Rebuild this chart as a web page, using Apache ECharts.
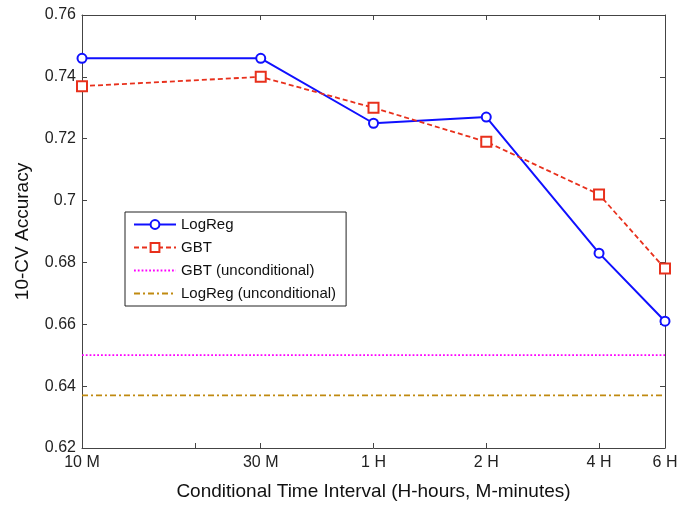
<!DOCTYPE html>
<html>
<head>
<meta charset="utf-8">
<script src="https://cdn.jsdelivr.net/npm/echarts@6/dist/echarts.min.js"></script>
<style>
html, body { margin: 0; padding: 0; background: #fff; }
#tu { width: 679px; height: 506px; }
</style>
</head>
<body>
<div id="tu"></div>
<script>
// time intervals in minutes, labels for the log axis
var minutes = [10, 30, 60, 120, 240, 360];
var tickMinutes = [10, 20, 30, 60, 120, 240, 360];
var tickLabels = ['10 M', '30 M', '1 H', '2 H', '4 H', '6 H'];
var logReg = [0.746, 0.746, 0.725, 0.727, 0.683, 0.661];
var gbt = [0.737, 0.740, 0.730, 0.719, 0.702, 0.678];
var gbtUncond = 0.650;
var logRegUncond = 0.637;

var font = 'Liberation Sans, Arial, sans-serif';

function pts(vals) {
    return minutes.map(function(m, i) { return [Math.log10(m), vals[i]]; });
}
function flat(v) {
    return [[Math.log10(minutes[0]), v], [Math.log10(minutes[minutes.length - 1]), v]];
}
var labelPos = minutes.map(function(m) { return Math.log10(m); });
var tickPos = tickMinutes.map(function(m) { return Math.log10(m); });
function fmtX(v) {
    for (var i = 0; i < labelPos.length; i++) {
        if (Math.abs(labelPos[i] - v) < 1e-6) return tickLabels[i];
    }
    return '';
}

var myChart = echarts.init(document.getElementById('tu'));

var axisLine = { show: true, lineStyle: { color: '#444', width: 1 } };
var noMark = { color: 'rgba(0,0,0,0)', borderColor: 'rgba(0,0,0,0)', borderWidth: 0 };

var option = {
    animation: false,
    backgroundColor: '#fff',
    textStyle: { fontFamily: font },
    grid: { left: 82, right: 14, top: 15, bottom: 58, outerBoundsMode: 'none', containLabel: false },
    legend: {
        orient: 'vertical',
        left: 125,
        top: 212,
        padding: [5, 10, 5, 8],
        itemGap: 8,
        itemWidth: 42,
        itemHeight: 11,
        borderColor: '#222',
        borderWidth: 1,
        backgroundColor: '#fff',
        textStyle: { fontSize: 15, color: '#111', fontFamily: font },
        data: [
            { name: 'LogReg' },
            { name: 'GBT' },
            { name: 'GBT (unconditional)', itemStyle: noMark },
            { name: 'LogReg (unconditional)', itemStyle: noMark }
        ]
    },
    xAxis: [{
        type: 'value',
        min: Math.log10(10),
        max: Math.log10(360),
        name: 'Conditional Time Interval (H-hours, M-minutes)',
        nameLocation: 'middle',
        nameGap: 34,
        nameTextStyle: { fontSize: 19, color: '#111', fontFamily: font },
        axisLine: axisLine,
        axisTick: { show: true, inside: true, length: 5, customValues: tickPos, lineStyle: { color: '#444' } },
        axisLabel: { customValues: labelPos, formatter: fmtX, fontSize: 16, color: '#222', margin: 7, fontFamily: font },
        splitLine: { show: false }
    }, {
        type: 'value',
        position: 'top',
        min: Math.log10(10),
        max: Math.log10(360),
        axisLine: axisLine,
        axisTick: { show: true, inside: true, length: 5, customValues: tickPos, lineStyle: { color: '#444' } },
        axisLabel: { show: false },
        splitLine: { show: false }
    }],
    yAxis: [{
        type: 'value',
        min: 0.62,
        max: 0.76,
        interval: 0.02,
        name: '10-CV Accuracy',
        nameLocation: 'middle',
        nameGap: 50,
        nameTextStyle: { fontSize: 19, color: '#111', fontFamily: font },
        axisLine: axisLine,
        axisTick: { show: true, inside: true, length: 5, lineStyle: { color: '#444' } },
        axisLabel: { fontSize: 16, color: '#222', margin: 6, fontFamily: font },
        splitLine: { show: false }
    }, {
        type: 'value',
        position: 'right',
        min: 0.62,
        max: 0.76,
        interval: 0.02,
        axisLine: axisLine,
        axisTick: { show: true, inside: true, length: 5, lineStyle: { color: '#444' } },
        axisLabel: { show: false },
        splitLine: { show: false }
    }],
    series: [{
        name: 'LogReg',
        type: 'line',
        data: pts(logReg),
        symbol: 'emptyCircle',
        symbolSize: 9,
        color: '#0000ff',
        lineStyle: { color: '#1010ff', width: 2 },
        itemStyle: { color: '#1010ff', borderWidth: 1.5 }
    }, {
        name: 'GBT',
        type: 'line',
        data: pts(gbt),
        symbol: 'emptyRect',
        symbolSize: 10,
        color: '#e8301c',
        lineStyle: { color: '#e8301c', width: 1.8, type: [5, 3] },
        itemStyle: { color: '#e8301c', borderWidth: 1.5 }
    }, {
        name: 'GBT (unconditional)',
        type: 'line',
        data: flat(gbtUncond),
        symbol: 'none',
        color: '#ff00ff',
        lineStyle: { color: '#ff00ff', width: 1.8, type: [1.8, 2] }
    }, {
        name: 'LogReg (unconditional)',
        type: 'line',
        data: flat(logRegUncond),
        symbol: 'none',
        color: '#c08a10',
        lineStyle: { color: '#c08a10', width: 1.8, type: [6, 3, 2, 3] }
    }]
};

myChart.setOption(option);
</script>
</body>
</html>
